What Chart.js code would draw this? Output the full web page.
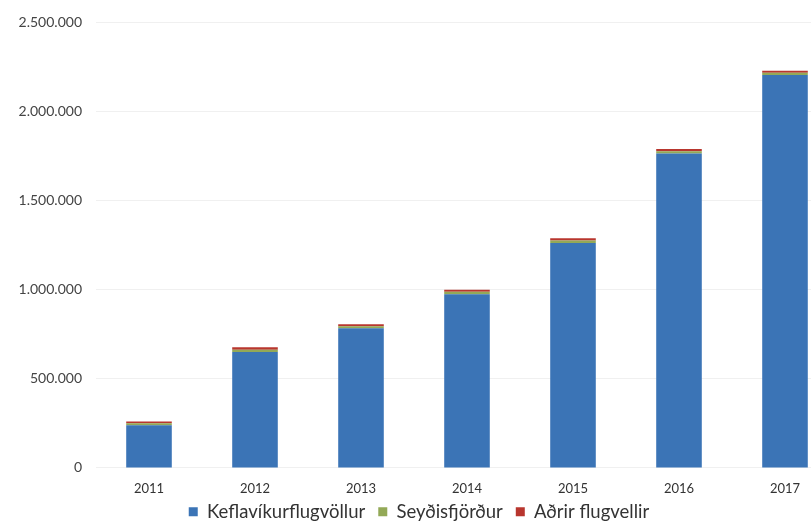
<!DOCTYPE html>
<html>
<head>
<meta charset="utf-8">
<script src="https://cdn.jsdelivr.net/npm/chart.js@4"></script>
<style>
  html, body { margin: 0; padding: 0; background: #fff; overflow: hidden; }
  #wrap { width: 838px; height: 551px; }
</style>
</head>
<body>
<div id="wrap"><canvas id="ferdamenn"></canvas></div>
<script>
const years = ['2011', '2012', '2013', '2014', '2015', '2016', '2017'];
const keflavik = [239000, 650000, 783000, 975000, 1262000, 1765000, 2205000];
const seydisfjordur = [11000, 13000, 12000, 13000, 14000, 12000, 12000];
const adrir = [11000, 14000, 11000, 12000, 13000, 12000, 11000];

const fmt = v => String(v).replace(/\B(?=(\d{3})+(?!\d))/g, '.');

// pull the legend a bit closer to the axis labels
const legendNudge = {
    id: 'legendNudge',
    afterLayout(chart) {
        chart.legend.top -= 20;
        chart.legend.bottom -= 20;
    }
};

const ctx = document.getElementById('ferdamenn');

new Chart(ctx, {
    type: 'bar',
    data: {
        labels: years,
        datasets: [{
            label: 'Keflavíkurflugvöllur',
            data: keflavik,
            backgroundColor: '#3b74b6'
        }, {
            label: 'Seyðisfjörður',
            data: seydisfjordur,
            backgroundColor: '#93a957'
        }, {
            label: 'Aðrir flugvellir',
            data: adrir,
            backgroundColor: '#b8362e'
        }]
    },
    plugins: [legendNudge],
    options: {
        responsive: true,
        maintainAspectRatio: false,
        animation: false,
        layout: {
            padding: { top: 1, left: 0, right: 0, bottom: 0 }
        },
        datasets: {
            bar: {
                barPercentage: 0.43,
                categoryPercentage: 1.0
            }
        },
        plugins: {
            legend: {
                position: 'bottom',
                labels: {
                    boxWidth: 9,
                    boxHeight: 9,
                    padding: 13,
                    color: '#333',
                    font: { family: 'Lato', size: 18.5 }
                }
            },
            tooltip: { enabled: false }
        },
        scales: {
            x: {
                stacked: true,
                grid: { display: false, drawTicks: false },
                border: { display: false },
                ticks: {
                    color: '#333',
                    padding: 13,
                    font: { family: 'Lato', size: 13 }
                }
            },
            y: {
                stacked: true,
                min: 0,
                max: 2500000,
                afterFit: s => { s.width = 96; },
                grid: { color: '#f0f0f0', drawTicks: false },
                border: { display: false },
                ticks: {
                    stepSize: 500000,
                    padding: 14,
                    color: '#444',
                    font: { family: 'Lato', size: 14 },
                    callback: v => fmt(v)
                }
            }
        }
    }
});
</script>
</body>
</html>
